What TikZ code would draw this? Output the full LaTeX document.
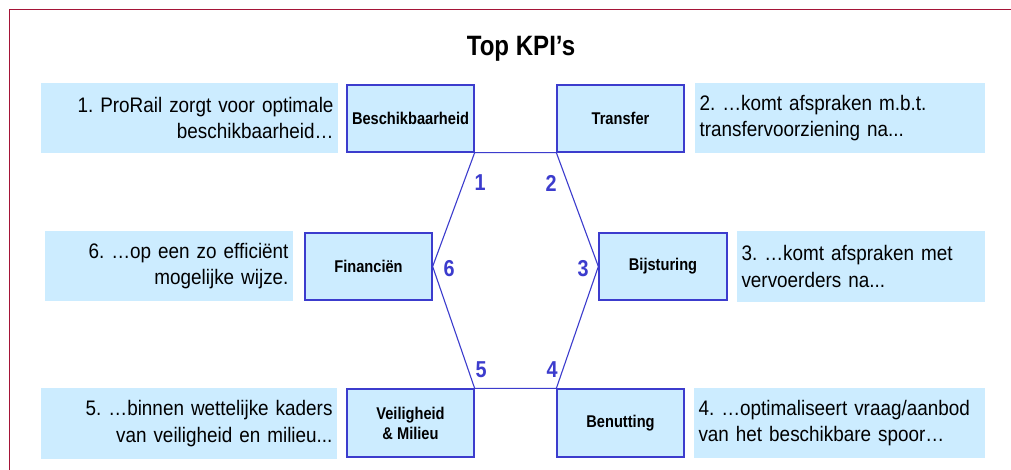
\documentclass[tikz,border=0pt]{standalone}
\usepackage{fontspec}
\setmainfont{Liberation Sans}
\newfontfamily\bodyfont[FakeStretch=0.9]{Liberation Sans}
\newfontfamily\labelfont[FakeStretch=0.86]{Liberation Sans}
\definecolor{frameRed}{RGB}{165,20,55}
\definecolor{kpiBlue}{RGB}{60,60,205}
\definecolor{kpiFill}{RGB}{204,236,255}
\tikzset{
  kpibox/.style={draw=kpiBlue, line width=1.3pt, fill=kpiFill, inner sep=2pt,
    align=center, font=\labelfont\bfseries\fontsize{17}{20}\selectfont},
  notebox/.style={fill=kpiFill, inner xsep=4.5pt, inner ysep=0pt,
    font=\bodyfont\fontsize{21}{26.5}\selectfont},
  numlabel/.style={text=kpiBlue, font=\labelfont\bfseries\fontsize{23}{23}\selectfont, inner sep=0pt},
  hexline/.style={draw=kpiBlue, line width=1.1pt, line join=miter},
  frameline/.style={draw=frameRed, line width=1.5pt}
}
\begin{document}
\frenchspacing
\begin{tikzpicture}[x=1pt, y=-1pt]
\useasboundingbox (0,0) rectangle (1011,470);
\fill[white] (0,0) rectangle (1011,470);
% outer frame, only its top and left edges fall on the page
\coordinate (fTR) at (1011,9.5);
\coordinate (fTL) at (9.5,9.5);
\coordinate (fBL) at (9.5,470);
\draw[frameline] (fTR) -- (fTL) -- (fBL);

% title
\node[font=\labelfont\bfseries\fontsize{28}{28}\selectfont] (title) at (521,49) {Top KPI’s};

% the six KPI boxes
\node[kpibox, minimum width=127, minimum height=67] (bes) at (410.5,118.5) {Beschikbaarheid};
\node[kpibox, minimum width=127, minimum height=67] (tra) at (620.5,118.5) {Transfer};
\node[kpibox, minimum width=128, minimum height=67] (bij) at (663,266.5) {Bijsturing};
\node[kpibox, minimum width=127, minimum height=68] (ben) at (620.5,423) {Benutting};
\node[kpibox, minimum width=127, minimum height=68] (vm)  at (410.5,423) {Veiligheid\\\& Milieu};
\node[kpibox, minimum width=127, minimum height=67] (fin) at (368.5,266.5) {Financiën};

% hexagon linking the boxes
\draw[hexline] (bes.south east) -- (tra.south west) -- (bij.west) -- (ben.north west)
  -- (vm.north east) -- (fin.east) -- cycle;

% numbers along the hexagon
\node[numlabel] (n1) at (480,183) {1};
\node[numlabel] (n2) at (551,183) {2};
\node[numlabel] (n3) at (583,269) {3};
\node[numlabel] (n4) at (552,369.5) {4};
\node[numlabel] (n5) at (481,369.5) {5};
\node[numlabel] (n6) at (449,269) {6};

% explanatory notes
\node[notebox, minimum width=297, minimum height=70, text width=288, align=right] (t1) at (189.5,118)
  {1. ProRail zorgt voor optimale\\beschikbaarheid…};
\node[notebox, minimum width=290, minimum height=70, text width=281, align=left] (t2) at (840,118)
  {2. …komt afspraken m.b.t.\\transfervoorziening na...};
\node[notebox, minimum width=248, minimum height=70, text width=239, align=left] (t3) at (861,266.5)
  {3. …komt afspraken met\\vervoerders na...};
\node[notebox, minimum width=291, minimum height=70, text width=282, align=left] (t4) at (839.5,423)
  {4. …optimaliseert vraag/aanbod\\van het beschikbare spoor…};
\node[notebox, minimum width=296, minimum height=71, text width=287, align=right] (t5) at (189,423.5)
  {5. …binnen wettelijke kaders\\van veiligheid en milieu...};
\node[notebox, minimum width=248, minimum height=70, text width=239, align=right] (t6) at (169,266.3)
  {6. …op een zo efficiënt\\mogelijke wijze.};
\end{tikzpicture}
\end{document}
